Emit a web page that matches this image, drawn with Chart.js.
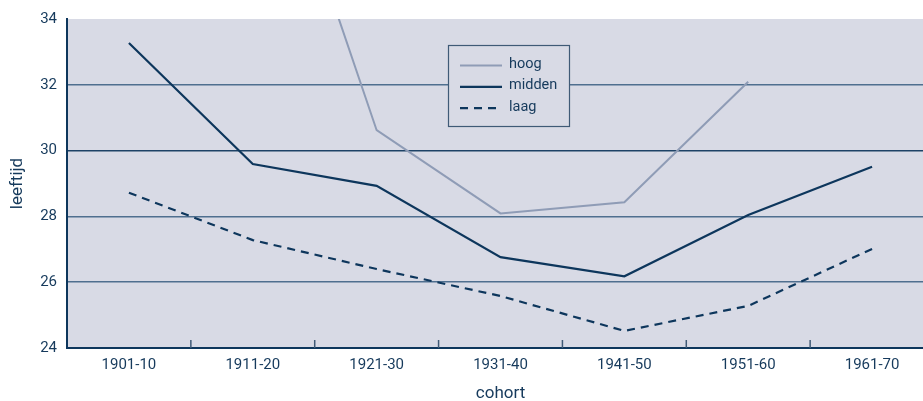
<!DOCTYPE html>
<html>
<head>
<meta charset="utf-8">
<script src="https://cdn.jsdelivr.net/npm/chart.js@4/dist/chart.umd.min.js"></script>
<style>
  html, body { margin: 0; padding: 0; background: #fff; overflow: hidden; }
  #wrap { width: 923px; height: 401px; overflow: hidden; }
  canvas { display: block; }
</style>
</head>
<body>
<div id="wrap"><canvas id="grafiek" width="940" height="401"></canvas></div>
<script>
// DATA
const cohorten = ["1901-10", "1911-20", "1921-30", "1931-40", "1941-50", "1951-60", "1961-70"];
const hoog   = [null, 41.7, 30.62, 28.09, 28.43, 32.09, null];
const midden = [33.27, 29.59, 28.93, 26.76, 26.18, 28.04, 29.51];
const laag   = [28.72, 27.28, 26.40, 25.58, 24.52, 25.28, 27.01];
const yMin = 24, yMax = 34, yStap = 2;

const tekstKleur = "#163a5c";
const donker = "#0d365c";

// achtergrond van het plotvlak
const achtergrond = {
  id: "achtergrond",
  beforeDraw(chart) {
    const {ctx, chartArea: a} = chart;
    ctx.save();
    ctx.fillStyle = "#d8dae5";
    ctx.fillRect(a.left, a.top, a.right - a.left, a.bottom - a.top);
    ctx.restore();
  }
};

// korte streepjes tussen de categorieen, naar binnen
const streepjes = {
  id: "streepjes",
  afterDatasetsDraw(chart) {
    const {ctx, chartArea: a, scales: {x}} = chart;
    ctx.save();
    ctx.strokeStyle = "#3f5a76";
    ctx.lineWidth = 1.5;
    for (let i = 1; i < cohorten.length; i++) {
      const px = (x.getPixelForValue(i - 1) + x.getPixelForValue(i)) / 2;
      ctx.beginPath();
      ctx.moveTo(px, a.bottom);
      ctx.lineTo(px, a.bottom - 8);
      ctx.stroke();
    }
    ctx.restore();
  }
};

// legenda in een kader binnen het plotvlak
const legenda = {
  id: "legenda",
  afterDatasetsDraw(chart) {
    const {ctx, chartArea: a} = chart;
    const bx = a.left + 381, by = a.top + 26, bw = 121, bh = 81;
    ctx.save();
    ctx.fillStyle = "#d8dae5";
    ctx.fillRect(bx, by, bw, bh);
    ctx.strokeStyle = "#3f5a76";
    ctx.lineWidth = 1.2;
    ctx.strokeRect(bx + 0.5, by + 0.5, bw, bh);
    ctx.font = "14.5px Roboto";
    ctx.textBaseline = "middle";
    chart.data.datasets.forEach((ds, i) => {
      const y = by + 20.5 + i * 21.3;
      ctx.strokeStyle = ds.borderColor;
      ctx.lineWidth = ds.borderWidth;
      ctx.setLineDash(ds.borderDash || []);
      ctx.beginPath();
      ctx.moveTo(bx + 12, y);
      ctx.lineTo(bx + 54, y);
      ctx.stroke();
      ctx.setLineDash([]);
      ctx.fillStyle = tekstKleur;
      ctx.fillText(ds.label, bx + 61, y - 1);
    });
    ctx.restore();
  }
};

const config = {
  type: "line",
  data: {
    labels: cohorten,
    datasets: [
      { label: "hoog", data: hoog, borderColor: "#8f9cb6", borderWidth: 2, pointRadius: 0, tension: 0, spanGaps: false },
      { label: "midden", data: midden, borderColor: donker, borderWidth: 2.2, pointRadius: 0, tension: 0 },
      { label: "laag", data: laag, borderColor: donker, borderWidth: 2.2, borderDash: [8, 6], pointRadius: 0, tension: 0 }
    ]
  },
  options: {
    responsive: false,
    animation: false,
    layout: { padding: { top: 19, right: 6, left: 0, bottom: 0 } },
    plugins: { legend: { display: false }, tooltip: { enabled: false } },
    scales: {
      x: {
        offset: true,
        grid: { display: false, drawTicks: false },
        border: { display: true, color: donker, width: 2 },
        ticks: { color: tekstKleur, font: { family: "Roboto", size: 15 }, padding: 8, maxRotation: 0 },
        title: { display: true, text: "cohort", color: tekstKleur, font: { family: "Roboto", size: 17, lineHeight: 0.9 }, padding: 0 },
        afterFit(s) { s.height = 53; }
      },
      y: {
        min: yMin, max: yMax,
        grid: {
          drawTicks: false,
          color: c => (c.tick.value === yMin || c.tick.value === yMax) ? "rgba(0,0,0,0)" : (c.tick.value === 30 ? "#1d4266" : "#4f6f8f"),
          lineWidth: 1.6
        },
        border: { display: true, color: donker, width: 2 },
        ticks: { stepSize: yStap, color: tekstKleur, font: { family: "Roboto", size: 15 }, padding: 10 },
        title: { display: true, text: "leeftijd", color: tekstKleur, font: { family: "Roboto", size: 17 }, padding: { top: 8, bottom: 0 } },
        afterFit(s) { s.width = 67; }
      }
    }
  },
  plugins: [achtergrond, streepjes, legenda]
};

new Chart(document.getElementById("grafiek"), config);
</script>
</body>
</html>
